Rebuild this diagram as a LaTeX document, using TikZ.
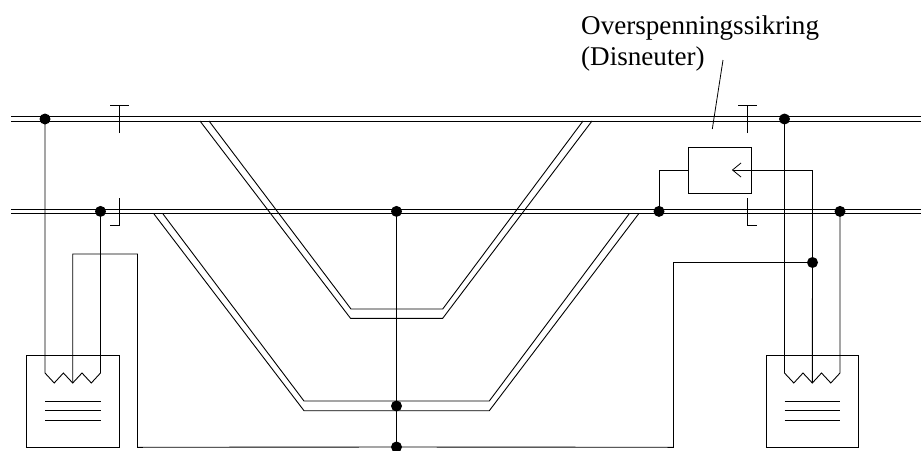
\documentclass[tikz,border=0pt]{standalone}
\usepackage{fontspec}
\setmainfont{Liberation Serif}
\usetikzlibrary{calc}
\tikzset{
  wire/.style={draw=black,line width=0.9pt,line join=miter},
  junction/.style={circle,fill=black,draw=none,inner sep=0pt,minimum size=11pt},
  boxnode/.style={draw=black,line width=0.9pt,inner sep=0pt,fill=none},
  lbl/.style={font=\fontsize{27.1pt}{32pt}\selectfont,inner sep=0pt,anchor=base west}
}
\begin{document}
\begin{tikzpicture}[x=1pt,y=-1pt]
\useasboundingbox (0,0) rectangle (921,450);
% bus bars
\draw[wire] (11,116.5) -- (921,116.5) (11,121) -- (921,121);
\draw[wire] (11,209) -- (921,209) (11,213.7) -- (921,213.7);
% junctions
\node[junction] (a) at (45,119) {};
\node[junction] (b) at (100.5,211.4) {};
\node[junction] (c) at (396.5,211.4) {};
\node[junction] (d) at (396.5,406) {};
\node[junction] (e) at (396.5,447) {};
\node[junction] (f) at (659,211.4) {};
\node[junction] (g) at (784.5,119) {};
\node[junction] (h) at (840,211.4) {};
\node[junction] (i) at (812.5,262.5) {};
% transformers
\node[boxnode,minimum width=93pt,minimum height=92.5pt] (tl) at (73,401.2) {};
\node[boxnode,minimum width=92.7pt,minimum height=92.5pt] (tr) at (812.3,401.2) {};
% arrester
\node[boxnode,minimum width=62.5pt,minimum height=46pt] (arr) at (719.8,170) {};
% disconnector marks
\coordinate (s1t) at (119,105); \coordinate (s1b) at (119,133);
\coordinate (s2t) at (119,198); \coordinate (s2b) at (119,225.7);
\coordinate (s3t) at (747.5,105); \coordinate (s3b) at (747.5,133);
\coordinate (s4t) at (747.5,198); \coordinate (s4b) at (747.5,225.7);
\draw[wire] (s1b) -- (s1t) (110,105) -- (128.5,105);
\draw[wire] (s2t) -- (s2b) -- ++(-9.3,0);
\draw[wire] (s3b) -- (s3t) (738,105) -- (757,105);
\draw[wire] (s4t) -- (s4b) -- ++(9.5,0);
% branch double lines
\draw[wire] (200,121) -- (350.5,318.3) -- (442.7,318.3) -- (592,121);
\draw[wire] (209,121) -- (351,309) -- (442.7,309) -- (583,121);
\draw[wire] (154,214) -- (304,410.7) -- (489.3,410.7) -- (638.5,214);
\draw[wire] (163,214) -- (304,401) -- (489.3,401) -- (629,214);
% coils left
\draw[wire] (a.center) -- (45,373) -- (54.2,383) -- (63.4,373) -- (72.7,383) -- (82,373) -- (91.3,383) -- (100.5,373) -- (b.center);
\draw[wire] (45,401.5) -- (100.5,401.5) (45,410.7) -- (100.5,410.7) (45,420) -- (100.5,420);
% coils right
\draw[wire] (g.center) -- (784.5,373) -- (793.8,383) -- (803,373) -- (812.3,383) -- (821.5,373) -- (830.8,383) -- (840,373) -- (h.center);
\draw[wire] (784.5,401.5) -- (840,401.5) (784.5,410.7) -- (840,410.7) (784.5,420) -- (840,420);
% centre wire
\draw[wire] (c.center) -- (d.center) -- (e.center);
% secondary return loop
\draw[wire] (72.7,383) -- (72.7,254) -- (137.5,254) -- (137.5,447.3) -- (e.center);
\draw[wire] (e.center) -- (673.5,447.3) -- (673.5,262.5) -- (i.center);
\draw[wire] (812.3,383) -- (i.center);
% arrester wires
\draw[wire] (f.center) -- (659,170) -- (arr.west);
\draw[wire] (i.center) -- (812.5,170) -- (732.5,170);
\draw[line width=0.8pt] (741,163) -- (732.5,170) -- (741,177);
% label
\node[lbl] (t1) at (581,34) {Overspenningssikring};
\node[lbl] (t2) at (581,65.5) {(Disneuter)};
\coordinate (lead) at (712.3,129);
\draw[line width=0.8pt] (723,60) -- (lead);
\end{tikzpicture}
\end{document}
